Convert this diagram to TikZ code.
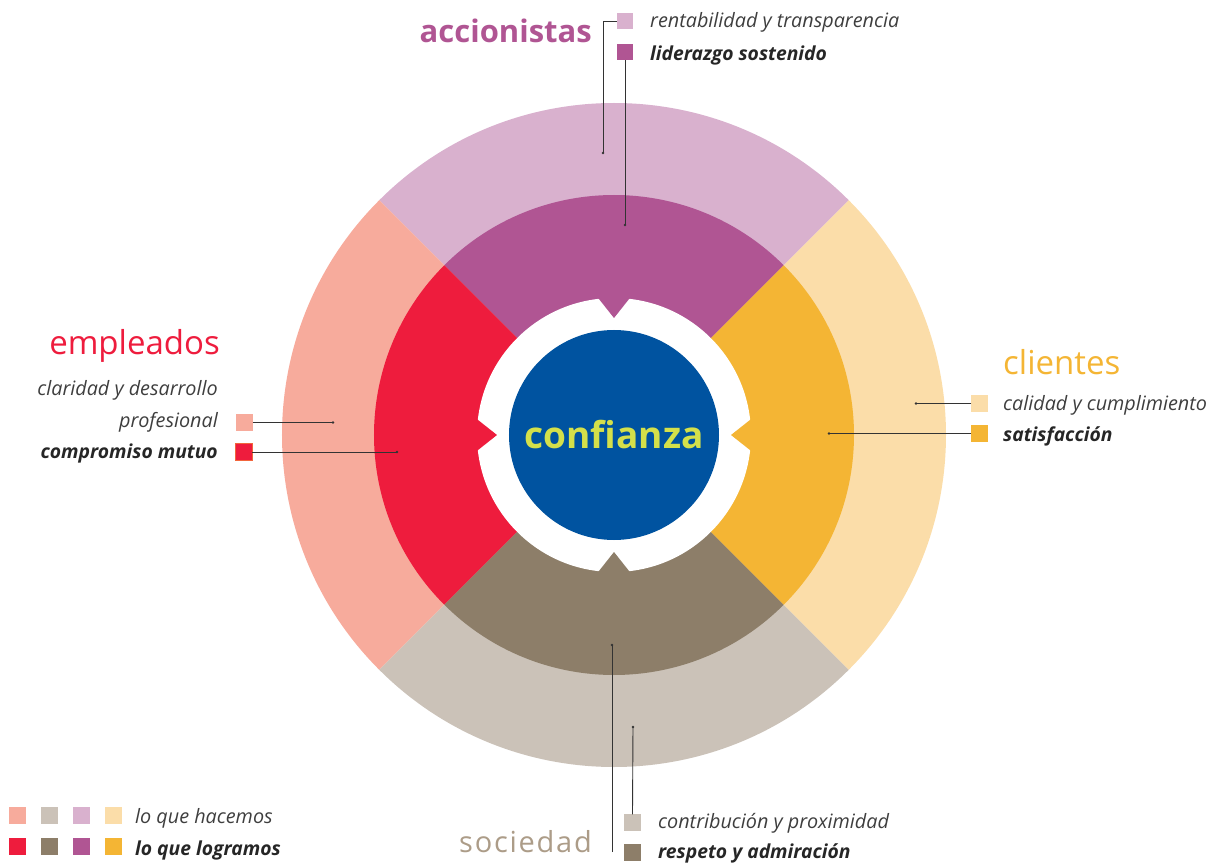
\documentclass[tikz,border=0pt]{standalone}
\usepackage{fontspec}
\setmainfont{Open Sans}
\newfontfamily\spacedfont[LetterSpace=6]{Open Sans}
\usetikzlibrary{calc}
\usetikzlibrary{positioning}

\definecolor{emplight}{RGB}{247,171,156}
\definecolor{empdark}{RGB}{238,28,61}
\definecolor{empedge}{RGB}{242,101,60}
\definecolor{acclight}{RGB}{217,177,206}
\definecolor{accdark}{RGB}{176,85,147}
\definecolor{clilight}{RGB}{251,221,169}
\definecolor{clidark}{RGB}{244,181,52}
\definecolor{soclight}{RGB}{203,194,184}
\definecolor{socdark}{RGB}{141,126,105}
\definecolor{socname}{RGB}{172,156,136}
\definecolor{trustblue}{RGB}{0,83,160}
\definecolor{trustlime}{RGB}{212,224,74}
\definecolor{txt}{RGB}{62,62,62}

\tikzset{
    key/.style={minimum size=16.5pt, inner sep=0pt, outer sep=0pt},
    lead/.style={draw=black!80, line width=0.9pt},
    tip/.style={circle, fill=black!80, inner sep=0pt, minimum size=2.6pt},
    what/.style={font=\fontsize{19.8}{23}\selectfont\itshape, text=txt, inner sep=0pt},
    got/.style={font=\fontsize{19.3}{23}\selectfont\bfseries\itshape, text=black!85, inner sep=0pt},
    group/.style={font=\fontsize{33}{38}\selectfont, inner sep=0pt},
}

\begin{document}
\begin{tikzpicture}[x=1pt,y=1pt]

    \useasboundingbox (-614,-427) rectangle (598,435);

    % outer ring
    \fill[acclight] (0,0) -- (45:332) arc[start angle=45, end angle=135, radius=332] -- cycle;
    \fill[emplight] (0,0) -- (135:332) arc[start angle=135, end angle=225, radius=332] -- cycle;
    \fill[soclight] (0,0) -- (225:332) arc[start angle=225, end angle=315, radius=332] -- cycle;
    \fill[clilight] (0,0) -- (-45:332) arc[start angle=-45, end angle=45, radius=332] -- cycle;

    % inner ring
    \fill[accdark] (0,0) -- (45:240) arc[start angle=45, end angle=135, radius=240] -- cycle;
    \fill[empdark] (0,0) -- (135:240) arc[start angle=135, end angle=225, radius=240] -- cycle;
    \fill[socdark] (0,0) -- (225:240) arc[start angle=225, end angle=315, radius=240] -- cycle;
    \fill[clidark] (0,0) -- (-45:240) arc[start angle=-45, end angle=45, radius=240] -- cycle;

    \fill[white] (0,0) circle (137);

    % notches
    \fill[accdark] ($(90:141)+(-19,0)$) -- (90:117) -- ($(90:141)+(19,0)$) -- cycle;
    \fill[empdark] ($(180:141)+(0,19)$) -- (180:117) -- ($(180:141)+(0,-19)$) -- cycle;
    \fill[socdark] ($(270:141)+(-19,0)$) -- (270:117) -- ($(270:141)+(19,0)$) -- cycle;
    \fill[clidark] ($(0:141)+(0,19)$) -- (0:117) -- ($(0:141)+(0,-19)$) -- cycle;

    \node[circle, fill=trustblue, minimum size=210pt, inner sep=0pt, text=trustlime,
          font=\fontsize{37}{42}\selectfont\bfseries] (trust) at (0,0) {confianza};

    % accionistas
    \node[group, font=\fontsize{31}{36}\selectfont\bfseries, text=accdark, anchor=base east] (acc) at (-22,392) {accionistas};
    \node[key, fill=acclight] (acck1) at (11,414) {};
    \node[key, fill=accdark] (acck2) at (11,383) {};
    \node[what, anchor=base west] (acct1) at (36,407) {rentabilidad y transparencia};
    \node[got, anchor=base west] (acct2) at (36,374) {liderazgo sostenido};
    \node[tip] (accd1) at (-11,282) {};
    \node[tip] (accd2) at (11,210) {};
    \draw[lead] (acck1.west) -| (accd1.center);
    \draw[lead] (acck2.south) -- (accd2.center);

    % empleados
    \node[group, text=empdark, anchor=base east] (emp) at (-394,80) {empleados};
    \node[what, anchor=base east] (empt0) at (-396,40) {claridad y desarrollo};
    \node[what, anchor=base east] (empt1) at (-396,8) {profesional};
    \node[got, anchor=base east] (empt2) at (-396,-23) {compromiso mutuo};
    \node[key, fill=emplight] (empk1) at (-369.5,12.5) {};
    \node[key, fill=empdark, draw=empedge, line width=0.6pt] (empk2) at (-370,-17) {};
    \node[tip] (empd1) at (-281,12.5) {};
    \node[tip] (empd2) at (-217,-17) {};
    \draw[lead] (empk1.east) -- (empd1.center);
    \draw[lead] (empk2.east) -- (empd2.center);

    % clientes
    \node[group, text=clidark, anchor=base west] (cli) at (389,60) {clientes};
    \node[key, fill=clilight] (clik1) at (365.5,31.5) {};
    \node[key, fill=clidark] (clik2) at (365.5,1.5) {};
    \node[what, anchor=base west] (clit1) at (389,25) {calidad y cumplimiento};
    \node[got, anchor=base west] (clit2) at (389,-6) {satisfacción};
    \node[tip] (clid1) at (302,31.5) {};
    \node[tip] (clid2) at (215,1.5) {};
    \draw[lead] (clik1.west) -- (clid1.center);
    \draw[lead] (clik2.west) -- (clid2.center);

    % sociedad
    \node[inner sep=0pt, font=\fontsize{29}{34}\selectfont\spacedfont, text=socname, anchor=base east] (soc) at (-22,-417) {sociedad};
    \node[key, fill=soclight] (sock1) at (18.5,-387.5) {};
    \node[key, fill=socdark] (sock2) at (18.5,-417.5) {};
    \node[what, anchor=base west] (soct1) at (44,-393) {contribución y proximidad};
    \node[got, anchor=base west] (soct2) at (44,-423) {respeto y admiración};
    \node[tip] (socd1) at (19,-292) {};
    \node[tip] (socd2) at (-2,-210) {};
    \coordinate (socfoot) at (-2,-417);
    \draw[lead] (sock1.north) -- (socd1.center);
    \draw[lead] (socfoot) -- (socd2.center);

    % legend
    \node[key, fill=emplight] (hac1) at (-596.5,-380.5) {};
    \node[key, fill=soclight] (hac2) at (-564.5,-380.5) {};
    \node[key, fill=acclight] (hac3) at (-532.5,-380.5) {};
    \node[key, fill=clilight] (hac4) at (-500.5,-380.5) {};
    \node[key, fill=empdark] (log1) at (-596.5,-411.5) {};
    \node[key, fill=socdark] (log2) at (-564.5,-411.5) {};
    \node[key, fill=accdark] (log3) at (-532.5,-411.5) {};
    \node[key, fill=clidark] (log4) at (-500.5,-411.5) {};
    \node[what, anchor=base west] (hact) at (-479,-388) {lo que hacemos};
    \node[got, anchor=base west] (logt) at (-479,-420) {lo que logramos};

\end{tikzpicture}
\end{document}
